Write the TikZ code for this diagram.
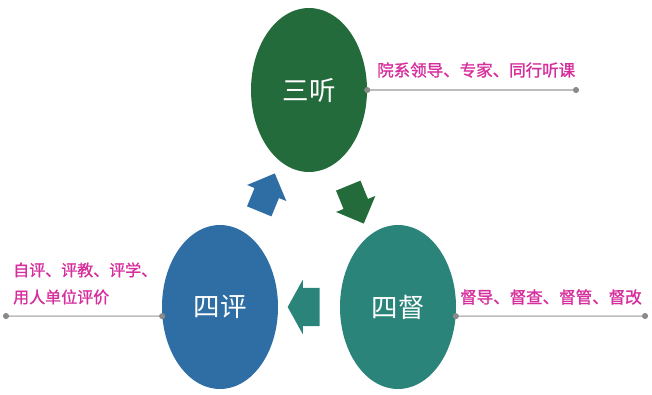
\documentclass[tikz,border=0pt]{standalone}
\usepackage{fontspec}
\usepackage{xcolor}
\usepackage{tikz}
\usetikzlibrary{arrows.meta,shapes.geometric,shapes.arrows}
\newfontfamily\cjk{Noto Sans CJK SC}
\newfontfamily\cjknote[FakeBold=1.2]{Noto Sans CJK SC}

\definecolor{tinggreen}{HTML}{246B3C}
\definecolor{pingblue}{HTML}{2F6EA5}
\definecolor{duteal}{HTML}{2A847A}
\definecolor{notepink}{HTML}{D62E9C}
\definecolor{leadgray}{HTML}{BDBDBD}
\definecolor{dotgray}{HTML}{8A8A8A}

\begin{document}
\begin{tikzpicture}[x=1pt,y=-1pt,
    oval/.style={ellipse, minimum width=116pt, minimum height=164pt, inner sep=0pt,
        text=white, font=\cjk\fontsize{26.5}{26.5}\selectfont},
    turn/.style={single arrow, sloped, allow upside down, draw=none, inner xsep=0pt},
    leader/.style={leadgray, line width=1.5pt,
        {Circle[length=6pt,color=dotgray]}-{Circle[length=6pt,color=dotgray]},
        shorten <=-3pt, shorten >=-3pt},
    note/.style={anchor=west, inner sep=0pt, text=notepink}]
    \useasboundingbox (0,0) rectangle (652,395);

    \node[oval, fill=tinggreen] (santing) at (309,90) {三听};
    \node[oval, fill=pingblue] (siping) at (220,307) {四评};
    \node[oval, fill=duteal] (sidu) at (398,307) {四督};

    % cycle arrows
    \path (siping) -- node[turn, fill=pingblue, minimum height=41pt, inner ysep=13pt,
        single arrow head extend=8pt, single arrow tip angle=90] (pingarrow) {} (santing);
    \path (santing) -- node[turn, fill=tinggreen, minimum height=41pt, inner ysep=13pt,
        single arrow head extend=8pt, single arrow tip angle=90] (tingarrow) {} (sidu);
    \path (sidu) -- node[turn, fill=duteal, minimum height=32pt, inner ysep=19pt,
        single arrow head extend=8pt, single arrow tip angle=122] (duarrow) {} (siping);

    \node[note, font=\cjknote\fontsize{16.5}{16.5}\selectfont] (tingnote) at (377,70) {院系领导、专家、同行听课};
    \node[note, align=left, font=\cjknote\fontsize{16}{27}\selectfont] (pingnote) at (13,283.5) {自评、评教、评学、\\用人单位评价};
    \node[note, font=\cjknote\fontsize{16.5}{16.5}\selectfont] (dunote) at (460,297) {督导、督查、督管、督改};

    \coordinate (tingend) at (576,90);
    \coordinate (pingend) at (6,316);
    \coordinate (duend) at (645,316);
    \draw[leader] (santing.east) -- (tingend);
    \draw[leader] (siping.189) -- (pingend);
    \draw[leader] (sidu.-9) -- (duend);
\end{tikzpicture}
\end{document}
